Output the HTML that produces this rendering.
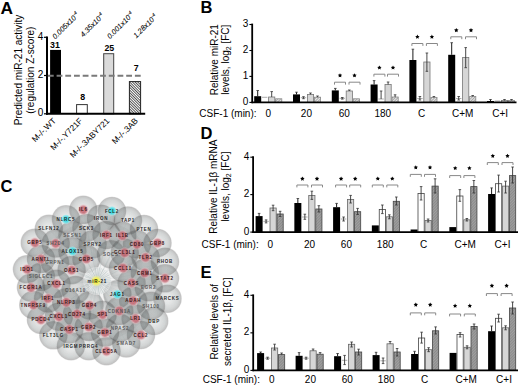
<!DOCTYPE html>
<html><head><meta charset="utf-8"><style>
html,body{margin:0;padding:0;background:#fff;}
svg{display:block;}
text{font-family:"Liberation Sans", sans-serif;}
</style></head><body>
<svg width="520" height="387" viewBox="0 0 520 387" font-family="Liberation Sans, sans-serif">
<defs><pattern id="hatA" patternUnits="userSpaceOnUse" width="1.9" height="1.9" patternTransform="rotate(45)">
<rect width="1.9" height="1.9" fill="#fff"/><rect width="1.9" height="0.7" fill="#111"/></pattern><pattern id="hatB" patternUnits="userSpaceOnUse" width="2" height="2" patternTransform="rotate(-45)">
<rect width="2" height="2" fill="#e8e8e8"/><rect width="2" height="0.8" fill="#999"/></pattern><pattern id="hatD" patternUnits="userSpaceOnUse" width="2" height="2" patternTransform="rotate(-45)">
<rect width="2" height="2" fill="#a0a0a0"/><rect width="2" height="0.8" fill="#868686"/></pattern><filter id="blr" x="-5%" y="-5%" width="110%" height="110%"><feGaussianBlur stdDeviation="0.5"/></filter><radialGradient id="sph" cx="0.5" cy="0.5" r="0.5">
<stop offset="0" stop-color="#586262" stop-opacity="0.12"/>
<stop offset="0.35" stop-color="#586262" stop-opacity="0.17"/>
<stop offset="0.75" stop-color="#586262" stop-opacity="0.27"/>
<stop offset="0.94" stop-color="#505050" stop-opacity="0.35"/>
<stop offset="1" stop-color="#606060" stop-opacity="0.26"/></radialGradient><radialGradient id="rn"><stop offset="0" stop-color="#d07a84"/><stop offset="0.45" stop-color="#c25e6a"/><stop offset="0.65" stop-color="#cc7882" stop-opacity="0.85"/><stop offset="0.82" stop-color="#eab0b6" stop-opacity="0.45"/><stop offset="1" stop-color="#f4c8cc" stop-opacity="0"/></radialGradient><radialGradient id="cn"><stop offset="0" stop-color="#30d8e0"/><stop offset="0.5" stop-color="#50dce4"/><stop offset="0.8" stop-color="#90e8ee" stop-opacity="0.7"/><stop offset="1" stop-color="#c0f4f4" stop-opacity="0"/></radialGradient><radialGradient id="yn"><stop offset="0" stop-color="#f4f020"/><stop offset="0.5" stop-color="#f4f060"/><stop offset="1" stop-color="#ffffa0" stop-opacity="0"/></radialGradient></defs>
<rect width="520" height="387" fill="#fff"/>
<text x="0.4" y="13.5" font-size="17.3" text-anchor="start" font-weight="bold" fill="#000">A</text>
<text x="0" y="0" font-size="10" text-anchor="middle" fill="#000" transform="translate(21.8,70) rotate(-90)">Predicted miR-21 activity</text>
<text x="0" y="0" font-size="10" text-anchor="middle" fill="#000" transform="translate(33.5,70.2) rotate(-90)">(regulation Z-score)</text>
<rect x="50.1" y="49.9" width="10.9" height="63.9" fill="#000" stroke="none" stroke-width="1"/>
<rect x="76.6" y="104.6" width="10.7" height="9.200000000000003" fill="#fff" stroke="#333" stroke-width="1"/>
<rect x="103.7" y="53.7" width="10" height="60.099999999999994" fill="#dadada" stroke="#444" stroke-width="1"/>
<rect x="129.4" y="81.6" width="11.2" height="32.2" fill="url(#hatA)" stroke="#222" stroke-width="1"/>
<line x1="47" y1="36.5" x2="47" y2="114.8" stroke="#000" stroke-width="2"/>
<line x1="44" y1="37.3" x2="47" y2="37.3" stroke="#000" stroke-width="1.2"/>
<text x="43.3" y="39.5" font-size="10" text-anchor="end" fill="#000">4</text>
<line x1="44" y1="75.5" x2="47" y2="75.5" stroke="#000" stroke-width="1.2"/>
<text x="43.3" y="77.7" font-size="10" text-anchor="end" fill="#000">2</text>
<line x1="44" y1="113.8" x2="47" y2="113.8" stroke="#000" stroke-width="1.2"/>
<text x="43.3" y="116.0" font-size="10" text-anchor="end" fill="#000">0</text>
<line x1="46" y1="113.8" x2="145.2" y2="113.8" stroke="#000" stroke-width="2"/>
<line x1="47.9" y1="75.7" x2="142" y2="75.7" stroke="#7a7a7a" stroke-width="2" stroke-dasharray="5.8 2.9"/>
<text x="54.9" y="47.6" font-size="8.8" text-anchor="middle" font-weight="bold" fill="#000">31</text>
<text x="82.7" y="99.8" font-size="8.8" text-anchor="middle" font-weight="bold" fill="#000">8</text>
<text x="109.35" y="50.6" font-size="8.8" text-anchor="middle" font-weight="bold" fill="#000">25</text>
<text x="136.2" y="70.6" font-size="8.8" text-anchor="middle" font-weight="bold" fill="#000">7</text>
<text transform="translate(55.3,39.5) rotate(-45)" font-size="7.3" font-style="italic" fill="#000" stroke="#000" stroke-width="0.08">0.005x10<tspan font-size="4.8" dy="-3">-4</tspan></text>
<text transform="translate(83.2,37.5) rotate(-45)" font-size="7.3" font-style="italic" fill="#000" stroke="#000" stroke-width="0.08">4.35x10<tspan font-size="4.8" dy="-3">-4</tspan></text>
<text transform="translate(110,39.2) rotate(-45)" font-size="7.3" font-style="italic" fill="#000" stroke="#000" stroke-width="0.08">0.001x10<tspan font-size="4.8" dy="-3">-4</tspan></text>
<text transform="translate(136.3,38.5) rotate(-45)" font-size="7.3" font-style="italic" fill="#000" stroke="#000" stroke-width="0.08">1.28x10<tspan font-size="4.8" dy="-3">-4</tspan></text>
<text x="0" y="0" font-size="8.3" text-anchor="end" fill="#000" transform="translate(56.5,121.4) rotate(-45)">M-/-.WT</text>
<text x="0" y="0" font-size="8.3" text-anchor="end" fill="#000" transform="translate(83,121.4) rotate(-45)">M-/-.Y721F</text>
<text x="0" y="0" font-size="8.3" text-anchor="end" fill="#000" transform="translate(110,121.4) rotate(-45)">M-/-.3ABY721</text>
<text x="0" y="0" font-size="8.3" text-anchor="end" fill="#000" transform="translate(138.5,121.4) rotate(-45)">M-/-.3AB</text>
<text x="200.4" y="13.2" font-size="16.5" text-anchor="start" font-weight="bold" fill="#000">B</text>
<text transform="translate(217.6,59.7) rotate(-90)" font-size="10" text-anchor="middle">Relative miR-21</text>
<text transform="translate(229,59.7) rotate(-90)" font-size="10" text-anchor="middle">levels, log<tspan font-size="7" dy="2">2</tspan><tspan dy="-2"> [FC]</tspan></text>
<rect x="254.2" y="96.2" width="7" height="6.200000000000003" fill="#000" stroke="none" stroke-width="1"/>
<line x1="257.7" y1="90.5" x2="257.7" y2="96.2" stroke="#000" stroke-width="0.9"/>
<line x1="256.4" y1="90.5" x2="259.0" y2="90.5" stroke="#333" stroke-width="0.8"/>
<line x1="262.0" y1="97.3" x2="267.4" y2="97.3" stroke="#999" stroke-width="0.8"/>
<rect x="268.59999999999997" y="97" width="6.2" height="5.400000000000006" fill="#d6d6d6" stroke="#777" stroke-width="0.8"/>
<line x1="271.7" y1="91.6" x2="271.7" y2="97" stroke="#333" stroke-width="0.9"/>
<line x1="270.4" y1="91.6" x2="273.0" y2="91.6" stroke="#333" stroke-width="0.8"/>
<rect x="275.59999999999997" y="98.8" width="6.2" height="3.6000000000000085" fill="url(#hatB)" stroke="#888" stroke-width="0.8"/>
<rect x="293.0" y="94.4" width="7" height="8.0" fill="#000" stroke="none" stroke-width="1"/>
<line x1="296.5" y1="92.2" x2="296.5" y2="94.4" stroke="#000" stroke-width="0.9"/>
<line x1="295.2" y1="92.2" x2="297.8" y2="92.2" stroke="#333" stroke-width="0.8"/>
<line x1="300.8" y1="97.7" x2="306.2" y2="97.7" stroke="#999" stroke-width="0.8"/>
<line x1="303.5" y1="96.7" x2="303.5" y2="98.7" stroke="#333" stroke-width="0.9"/>
<line x1="302.2" y1="96.7" x2="304.8" y2="96.7" stroke="#333" stroke-width="0.8"/>
<line x1="302.2" y1="98.7" x2="304.8" y2="98.7" stroke="#333" stroke-width="0.8"/>
<rect x="307.4" y="94.4" width="6.2" height="8.0" fill="#d6d6d6" stroke="#777" stroke-width="0.8"/>
<line x1="310.5" y1="93" x2="310.5" y2="94.4" stroke="#333" stroke-width="0.9"/>
<line x1="309.2" y1="93" x2="311.8" y2="93" stroke="#333" stroke-width="0.8"/>
<rect x="314.4" y="97.2" width="6.2" height="5.200000000000003" fill="url(#hatB)" stroke="#888" stroke-width="0.8"/>
<line x1="317.5" y1="96" x2="317.5" y2="97.2" stroke="#333" stroke-width="0.9"/>
<line x1="316.2" y1="96" x2="318.8" y2="96" stroke="#333" stroke-width="0.8"/>
<rect x="331.79999999999995" y="90.4" width="7" height="12.0" fill="#000" stroke="none" stroke-width="1"/>
<line x1="335.29999999999995" y1="88.4" x2="335.29999999999995" y2="90.4" stroke="#000" stroke-width="0.9"/>
<line x1="333.99999999999994" y1="88.4" x2="336.59999999999997" y2="88.4" stroke="#333" stroke-width="0.8"/>
<line x1="339.59999999999997" y1="98.3" x2="344.99999999999994" y2="98.3" stroke="#999" stroke-width="0.8"/>
<line x1="342.29999999999995" y1="97.5" x2="342.29999999999995" y2="99.1" stroke="#333" stroke-width="0.9"/>
<line x1="340.99999999999994" y1="97.5" x2="343.59999999999997" y2="97.5" stroke="#333" stroke-width="0.8"/>
<line x1="340.99999999999994" y1="99.1" x2="343.59999999999997" y2="99.1" stroke="#333" stroke-width="0.8"/>
<rect x="346.19999999999993" y="91" width="6.2" height="11.400000000000006" fill="#d6d6d6" stroke="#777" stroke-width="0.8"/>
<line x1="349.29999999999995" y1="90" x2="349.29999999999995" y2="91" stroke="#333" stroke-width="0.9"/>
<line x1="347.99999999999994" y1="90" x2="350.59999999999997" y2="90" stroke="#333" stroke-width="0.8"/>
<rect x="353.19999999999993" y="98.8" width="6.2" height="3.6000000000000085" fill="url(#hatB)" stroke="#888" stroke-width="0.8"/>
<rect x="370.59999999999997" y="84.5" width="7" height="17.900000000000006" fill="#000" stroke="none" stroke-width="1"/>
<line x1="374.09999999999997" y1="80.6" x2="374.09999999999997" y2="84.5" stroke="#000" stroke-width="0.9"/>
<line x1="372.79999999999995" y1="80.6" x2="375.4" y2="80.6" stroke="#333" stroke-width="0.8"/>
<line x1="378.4" y1="99" x2="383.79999999999995" y2="99" stroke="#999" stroke-width="0.8"/>
<line x1="381.09999999999997" y1="91" x2="381.09999999999997" y2="99" stroke="#333" stroke-width="0.9"/>
<line x1="379.79999999999995" y1="91" x2="382.4" y2="91" stroke="#333" stroke-width="0.8"/>
<rect x="384.99999999999994" y="84.5" width="6.2" height="17.900000000000006" fill="#d6d6d6" stroke="#777" stroke-width="0.8"/>
<line x1="388.09999999999997" y1="82" x2="388.09999999999997" y2="84.5" stroke="#333" stroke-width="0.9"/>
<line x1="386.79999999999995" y1="82" x2="389.4" y2="82" stroke="#333" stroke-width="0.8"/>
<rect x="391.99999999999994" y="97" width="6.2" height="5.400000000000006" fill="url(#hatB)" stroke="#888" stroke-width="0.8"/>
<line x1="395.09999999999997" y1="94.8" x2="395.09999999999997" y2="97" stroke="#333" stroke-width="0.9"/>
<line x1="393.79999999999995" y1="94.8" x2="396.4" y2="94.8" stroke="#333" stroke-width="0.8"/>
<rect x="409.4" y="60" width="7" height="42.400000000000006" fill="#000" stroke="none" stroke-width="1"/>
<line x1="412.9" y1="49.2" x2="412.9" y2="60" stroke="#000" stroke-width="0.9"/>
<line x1="411.59999999999997" y1="49.2" x2="414.2" y2="49.2" stroke="#333" stroke-width="0.8"/>
<line x1="417.2" y1="98.5" x2="422.59999999999997" y2="98.5" stroke="#999" stroke-width="0.8"/>
<line x1="419.9" y1="96.5" x2="419.9" y2="100" stroke="#333" stroke-width="0.9"/>
<line x1="418.59999999999997" y1="96.5" x2="421.2" y2="96.5" stroke="#333" stroke-width="0.8"/>
<line x1="418.59999999999997" y1="100" x2="421.2" y2="100" stroke="#333" stroke-width="0.8"/>
<rect x="423.79999999999995" y="62" width="6.2" height="40.400000000000006" fill="#d6d6d6" stroke="#777" stroke-width="0.8"/>
<line x1="426.9" y1="53" x2="426.9" y2="71.3" stroke="#333" stroke-width="0.9"/>
<line x1="425.59999999999997" y1="53" x2="428.2" y2="53" stroke="#333" stroke-width="0.8"/>
<line x1="425.59999999999997" y1="71.3" x2="428.2" y2="71.3" stroke="#333" stroke-width="0.8"/>
<rect x="430.79999999999995" y="97.5" width="6.2" height="4.900000000000006" fill="url(#hatB)" stroke="#888" stroke-width="0.8"/>
<line x1="433.9" y1="96.5" x2="433.9" y2="97.5" stroke="#333" stroke-width="0.9"/>
<line x1="432.59999999999997" y1="96.5" x2="435.2" y2="96.5" stroke="#333" stroke-width="0.8"/>
<rect x="448.2" y="54.8" width="7" height="47.60000000000001" fill="#000" stroke="none" stroke-width="1"/>
<line x1="451.7" y1="42.7" x2="451.7" y2="54.8" stroke="#000" stroke-width="0.9"/>
<line x1="450.4" y1="42.7" x2="453.0" y2="42.7" stroke="#333" stroke-width="0.8"/>
<line x1="456.0" y1="98.5" x2="461.4" y2="98.5" stroke="#999" stroke-width="0.8"/>
<line x1="458.7" y1="96.5" x2="458.7" y2="100" stroke="#333" stroke-width="0.9"/>
<line x1="457.4" y1="96.5" x2="460.0" y2="96.5" stroke="#333" stroke-width="0.8"/>
<line x1="457.4" y1="100" x2="460.0" y2="100" stroke="#333" stroke-width="0.8"/>
<rect x="462.59999999999997" y="57.4" width="6.2" height="45.00000000000001" fill="#d6d6d6" stroke="#777" stroke-width="0.8"/>
<line x1="465.7" y1="47.6" x2="465.7" y2="67.7" stroke="#333" stroke-width="0.9"/>
<line x1="464.4" y1="47.6" x2="467.0" y2="47.6" stroke="#333" stroke-width="0.8"/>
<line x1="464.4" y1="67.7" x2="467.0" y2="67.7" stroke="#333" stroke-width="0.8"/>
<rect x="469.59999999999997" y="96.5" width="6.2" height="5.900000000000006" fill="url(#hatB)" stroke="#888" stroke-width="0.8"/>
<line x1="472.7" y1="95.5" x2="472.7" y2="96.5" stroke="#333" stroke-width="0.9"/>
<line x1="471.4" y1="95.5" x2="474.0" y2="95.5" stroke="#333" stroke-width="0.8"/>
<rect x="487.0" y="101" width="7" height="1.4000000000000057" fill="#000" stroke="none" stroke-width="1"/>
<line x1="490.5" y1="99.5" x2="490.5" y2="101" stroke="#000" stroke-width="0.9"/>
<line x1="489.2" y1="99.5" x2="491.8" y2="99.5" stroke="#333" stroke-width="0.8"/>
<line x1="494.8" y1="101" x2="500.2" y2="101" stroke="#999" stroke-width="0.8"/>
<rect x="501.4" y="100.5" width="6.2" height="1.9000000000000057" fill="#d6d6d6" stroke="#777" stroke-width="0.8"/>
<line x1="504.5" y1="99.5" x2="504.5" y2="100.5" stroke="#333" stroke-width="0.9"/>
<line x1="503.2" y1="99.5" x2="505.8" y2="99.5" stroke="#333" stroke-width="0.8"/>
<rect x="508.4" y="100.5" width="6.2" height="1.9000000000000057" fill="url(#hatB)" stroke="#888" stroke-width="0.8"/>
<line x1="511.5" y1="99.5" x2="511.5" y2="100.5" stroke="#333" stroke-width="0.9"/>
<line x1="510.2" y1="99.5" x2="512.8" y2="99.5" stroke="#333" stroke-width="0.8"/>
<polyline points="334.5,84.60000000000001 334.5,82.2 345.5,82.2 345.5,84.60000000000001" fill="none" stroke="#888" stroke-width="1"/>
<polyline points="349.0,84.60000000000001 349.0,82.2 360.0,82.2 360.0,84.60000000000001" fill="none" stroke="#888" stroke-width="1"/>
<polygon points="340.00,73.20 340.68,74.57 342.19,74.79 341.09,75.86 341.35,77.36 340.00,76.65 338.65,77.36 338.91,75.86 337.81,74.79 339.32,74.57" fill="#000"/>
<polygon points="354.50,73.20 355.18,74.57 356.69,74.79 355.59,75.86 355.85,77.36 354.50,76.65 353.15,77.36 353.41,75.86 352.31,74.79 353.82,74.57" fill="#000"/>
<polyline points="373.9,76.60000000000001 373.9,74.2 384.9,74.2 384.9,76.60000000000001" fill="none" stroke="#888" stroke-width="1"/>
<polyline points="387.5,76.60000000000001 387.5,74.2 398.5,74.2 398.5,76.60000000000001" fill="none" stroke="#888" stroke-width="1"/>
<polygon points="379.40,65.40 380.08,66.77 381.59,66.99 380.49,68.06 380.75,69.56 379.40,68.85 378.05,69.56 378.31,68.06 377.21,66.99 378.72,66.77" fill="#000"/>
<polygon points="393.00,65.40 393.68,66.77 395.19,66.99 394.09,68.06 394.35,69.56 393.00,68.85 391.65,69.56 391.91,68.06 390.81,66.99 392.32,66.77" fill="#000"/>
<polyline points="411.9,45.9 411.9,43.5 422.9,43.5 422.9,45.9" fill="none" stroke="#888" stroke-width="1"/>
<polyline points="426.4,45.9 426.4,43.5 437.4,43.5 437.4,45.9" fill="none" stroke="#888" stroke-width="1"/>
<polygon points="417.40,34.60 418.08,35.97 419.59,36.19 418.49,37.26 418.75,38.76 417.40,38.05 416.05,38.76 416.31,37.26 415.21,36.19 416.72,35.97" fill="#000"/>
<polygon points="431.90,34.60 432.58,35.97 434.09,36.19 432.99,37.26 433.25,38.76 431.90,38.05 430.55,38.76 430.81,37.26 429.71,36.19 431.22,35.97" fill="#000"/>
<polyline points="450.8,39.199999999999996 450.8,36.8 461.8,36.8 461.8,39.199999999999996" fill="none" stroke="#888" stroke-width="1"/>
<polyline points="465.5,39.199999999999996 465.5,36.8 476.5,36.8 476.5,39.199999999999996" fill="none" stroke="#888" stroke-width="1"/>
<polygon points="456.30,28.00 456.98,29.37 458.49,29.59 457.39,30.66 457.65,32.16 456.30,31.45 454.95,32.16 455.21,30.66 454.11,29.59 455.62,29.37" fill="#000"/>
<polygon points="471.00,28.00 471.68,29.37 473.19,29.59 472.09,30.66 472.35,32.16 471.00,31.45 469.65,32.16 469.91,30.66 468.81,29.59 470.32,29.37" fill="#000"/>
<line x1="252.2" y1="23.6" x2="252.2" y2="103.2" stroke="#000" stroke-width="1.8"/>
<line x1="249.39999999999998" y1="24.5" x2="252.2" y2="24.5" stroke="#000" stroke-width="1.1"/>
<text x="248.29999999999998" y="26.9" font-size="10" text-anchor="end" fill="#000">3</text>
<line x1="249.39999999999998" y1="50.5" x2="252.2" y2="50.5" stroke="#000" stroke-width="1.1"/>
<text x="248.29999999999998" y="52.9" font-size="10" text-anchor="end" fill="#000">2</text>
<line x1="249.39999999999998" y1="76.4" x2="252.2" y2="76.4" stroke="#000" stroke-width="1.1"/>
<text x="248.29999999999998" y="78.80000000000001" font-size="10" text-anchor="end" fill="#000">1</text>
<line x1="249.39999999999998" y1="102.4" x2="252.2" y2="102.4" stroke="#000" stroke-width="1.1"/>
<text x="248.29999999999998" y="104.80000000000001" font-size="10" text-anchor="end" fill="#000">0</text>
<line x1="251.5" y1="102.4" x2="516.5" y2="102.4" stroke="#000" stroke-width="1.7"/>
<text x="199.3" y="117.4" font-size="10" text-anchor="start" fill="#000">CSF-1 (min):</text>
<text x="268.2" y="117.4" font-size="10" text-anchor="middle" fill="#000">0</text>
<text x="306.4" y="117.4" font-size="10" text-anchor="middle" fill="#000">20</text>
<text x="344.2" y="117.4" font-size="10" text-anchor="middle" fill="#000">60</text>
<text x="382.8" y="117.4" font-size="10" text-anchor="middle" fill="#000">180</text>
<text x="421.5" y="117.4" font-size="10" text-anchor="middle" fill="#000">C</text>
<text x="462.7" y="117.4" font-size="10" text-anchor="middle" fill="#000">C+M</text>
<text x="500.2" y="117.4" font-size="10" text-anchor="middle" fill="#000">C+I</text>
<text x="200.4" y="138.5" font-size="16.5" text-anchor="start" font-weight="bold" fill="#000">D</text>
<text transform="translate(217.1,186.6) rotate(-90)" font-size="10" text-anchor="middle">Relative IL-1&#946; mRNA</text>
<text transform="translate(229,186.6) rotate(-90)" font-size="10" text-anchor="middle">levels, log<tspan font-size="7" dy="2">2</tspan><tspan dy="-2"> [FC]</tspan></text>
<rect x="255.60000000000002" y="216.1" width="7" height="16.0" fill="#000" stroke="none" stroke-width="1"/>
<line x1="259.1" y1="213.4" x2="259.1" y2="216.1" stroke="#000" stroke-width="0.9"/>
<line x1="257.8" y1="213.4" x2="260.40000000000003" y2="213.4" stroke="#333" stroke-width="0.8"/>
<line x1="263.40000000000003" y1="221.4" x2="268.8" y2="221.4" stroke="#999" stroke-width="0.8"/>
<line x1="266.1" y1="219.9" x2="266.1" y2="222.9" stroke="#333" stroke-width="0.9"/>
<line x1="264.8" y1="219.9" x2="267.40000000000003" y2="219.9" stroke="#333" stroke-width="0.8"/>
<line x1="264.8" y1="222.9" x2="267.40000000000003" y2="222.9" stroke="#333" stroke-width="0.8"/>
<rect x="270.0" y="208" width="6.2" height="24.099999999999994" fill="#d6d6d6" stroke="#666" stroke-width="0.8"/>
<line x1="273.1" y1="205.2" x2="273.1" y2="210.7" stroke="#333" stroke-width="0.9"/>
<line x1="271.8" y1="205.2" x2="274.40000000000003" y2="205.2" stroke="#333" stroke-width="0.8"/>
<line x1="271.8" y1="210.7" x2="274.40000000000003" y2="210.7" stroke="#333" stroke-width="0.8"/>
<rect x="277.0" y="214" width="6.2" height="18.099999999999994" fill="url(#hatD)" stroke="#444" stroke-width="0.8"/>
<line x1="280.1" y1="211.3" x2="280.1" y2="216.5" stroke="#333" stroke-width="0.9"/>
<line x1="278.8" y1="211.3" x2="281.40000000000003" y2="211.3" stroke="#333" stroke-width="0.8"/>
<line x1="278.8" y1="216.5" x2="281.40000000000003" y2="216.5" stroke="#333" stroke-width="0.8"/>
<rect x="294.35" y="203" width="7" height="29.099999999999994" fill="#000" stroke="none" stroke-width="1"/>
<line x1="297.85" y1="198.5" x2="297.85" y2="203" stroke="#000" stroke-width="0.9"/>
<line x1="296.55" y1="198.5" x2="299.15000000000003" y2="198.5" stroke="#333" stroke-width="0.8"/>
<line x1="302.15000000000003" y1="217" x2="307.55" y2="217" stroke="#999" stroke-width="0.8"/>
<line x1="304.85" y1="214.2" x2="304.85" y2="219.3" stroke="#333" stroke-width="0.9"/>
<line x1="303.55" y1="214.2" x2="306.15000000000003" y2="214.2" stroke="#333" stroke-width="0.8"/>
<line x1="303.55" y1="219.3" x2="306.15000000000003" y2="219.3" stroke="#333" stroke-width="0.8"/>
<rect x="308.75" y="195.4" width="6.2" height="36.69999999999999" fill="#d6d6d6" stroke="#666" stroke-width="0.8"/>
<line x1="311.85" y1="191.2" x2="311.85" y2="199.4" stroke="#333" stroke-width="0.9"/>
<line x1="310.55" y1="191.2" x2="313.15000000000003" y2="191.2" stroke="#333" stroke-width="0.8"/>
<line x1="310.55" y1="199.4" x2="313.15000000000003" y2="199.4" stroke="#333" stroke-width="0.8"/>
<rect x="315.75" y="209" width="6.2" height="23.099999999999994" fill="url(#hatD)" stroke="#444" stroke-width="0.8"/>
<line x1="318.85" y1="205.7" x2="318.85" y2="212" stroke="#333" stroke-width="0.9"/>
<line x1="317.55" y1="205.7" x2="320.15000000000003" y2="205.7" stroke="#333" stroke-width="0.8"/>
<line x1="317.55" y1="212" x2="320.15000000000003" y2="212" stroke="#333" stroke-width="0.8"/>
<rect x="333.1" y="207.2" width="7" height="24.900000000000006" fill="#000" stroke="none" stroke-width="1"/>
<line x1="336.6" y1="203.4" x2="336.6" y2="207.2" stroke="#000" stroke-width="0.9"/>
<line x1="335.3" y1="203.4" x2="337.90000000000003" y2="203.4" stroke="#333" stroke-width="0.8"/>
<line x1="340.90000000000003" y1="219" x2="346.3" y2="219" stroke="#999" stroke-width="0.8"/>
<line x1="343.6" y1="217" x2="343.6" y2="221" stroke="#333" stroke-width="0.9"/>
<line x1="342.3" y1="217" x2="344.90000000000003" y2="217" stroke="#333" stroke-width="0.8"/>
<line x1="342.3" y1="221" x2="344.90000000000003" y2="221" stroke="#333" stroke-width="0.8"/>
<rect x="347.5" y="199.4" width="6.2" height="32.69999999999999" fill="#d6d6d6" stroke="#666" stroke-width="0.8"/>
<line x1="350.6" y1="195.4" x2="350.6" y2="203" stroke="#333" stroke-width="0.9"/>
<line x1="349.3" y1="195.4" x2="351.90000000000003" y2="195.4" stroke="#333" stroke-width="0.8"/>
<line x1="349.3" y1="203" x2="351.90000000000003" y2="203" stroke="#333" stroke-width="0.8"/>
<rect x="354.5" y="211.7" width="6.2" height="20.400000000000006" fill="url(#hatD)" stroke="#444" stroke-width="0.8"/>
<line x1="357.6" y1="208.4" x2="357.6" y2="214.5" stroke="#333" stroke-width="0.9"/>
<line x1="356.3" y1="208.4" x2="358.90000000000003" y2="208.4" stroke="#333" stroke-width="0.8"/>
<line x1="356.3" y1="214.5" x2="358.90000000000003" y2="214.5" stroke="#333" stroke-width="0.8"/>
<rect x="371.85" y="225.4" width="7" height="6.699999999999989" fill="#000" stroke="none" stroke-width="1"/>
<rect x="379.25" y="209.4" width="6.2" height="22.69999999999999" fill="#fff" stroke="#444" stroke-width="0.8"/>
<line x1="382.35" y1="205" x2="382.35" y2="213.6" stroke="#333" stroke-width="0.9"/>
<line x1="381.05" y1="205" x2="383.65000000000003" y2="205" stroke="#333" stroke-width="0.8"/>
<line x1="381.05" y1="213.6" x2="383.65000000000003" y2="213.6" stroke="#333" stroke-width="0.8"/>
<rect x="386.25" y="216.8" width="6.2" height="15.299999999999983" fill="#d6d6d6" stroke="#666" stroke-width="0.8"/>
<line x1="389.35" y1="214.8" x2="389.35" y2="218.8" stroke="#333" stroke-width="0.9"/>
<line x1="388.05" y1="214.8" x2="390.65000000000003" y2="214.8" stroke="#333" stroke-width="0.8"/>
<line x1="388.05" y1="218.8" x2="390.65000000000003" y2="218.8" stroke="#333" stroke-width="0.8"/>
<rect x="393.25" y="201.3" width="6.2" height="30.799999999999983" fill="url(#hatD)" stroke="#444" stroke-width="0.8"/>
<line x1="396.35" y1="197" x2="396.35" y2="205" stroke="#333" stroke-width="0.9"/>
<line x1="395.05" y1="197" x2="397.65000000000003" y2="197" stroke="#333" stroke-width="0.8"/>
<line x1="395.05" y1="205" x2="397.65000000000003" y2="205" stroke="#333" stroke-width="0.8"/>
<rect x="410.6" y="229.5" width="7" height="2.5999999999999943" fill="#000" stroke="none" stroke-width="1"/>
<rect x="418.0" y="193.5" width="6.2" height="38.599999999999994" fill="#fff" stroke="#444" stroke-width="0.8"/>
<line x1="421.1" y1="186.6" x2="421.1" y2="200" stroke="#333" stroke-width="0.9"/>
<line x1="419.8" y1="186.6" x2="422.40000000000003" y2="186.6" stroke="#333" stroke-width="0.8"/>
<line x1="419.8" y1="200" x2="422.40000000000003" y2="200" stroke="#333" stroke-width="0.8"/>
<rect x="425.0" y="220.5" width="6.2" height="11.599999999999994" fill="#d6d6d6" stroke="#666" stroke-width="0.8"/>
<line x1="428.1" y1="219" x2="428.1" y2="222" stroke="#333" stroke-width="0.9"/>
<line x1="426.8" y1="219" x2="429.40000000000003" y2="219" stroke="#333" stroke-width="0.8"/>
<line x1="426.8" y1="222" x2="429.40000000000003" y2="222" stroke="#333" stroke-width="0.8"/>
<rect x="432.0" y="186.1" width="6.2" height="46.0" fill="url(#hatD)" stroke="#444" stroke-width="0.8"/>
<line x1="435.1" y1="178.8" x2="435.1" y2="193" stroke="#333" stroke-width="0.9"/>
<line x1="433.8" y1="178.8" x2="436.40000000000003" y2="178.8" stroke="#333" stroke-width="0.8"/>
<line x1="433.8" y1="193" x2="436.40000000000003" y2="193" stroke="#333" stroke-width="0.8"/>
<rect x="449.35" y="227.1" width="7" height="5.0" fill="#000" stroke="none" stroke-width="1"/>
<rect x="456.75" y="196" width="6.2" height="36.099999999999994" fill="#fff" stroke="#444" stroke-width="0.8"/>
<line x1="459.85" y1="189.6" x2="459.85" y2="201.3" stroke="#333" stroke-width="0.9"/>
<line x1="458.55" y1="189.6" x2="461.15000000000003" y2="189.6" stroke="#333" stroke-width="0.8"/>
<line x1="458.55" y1="201.3" x2="461.15000000000003" y2="201.3" stroke="#333" stroke-width="0.8"/>
<rect x="463.75" y="219.8" width="6.2" height="12.299999999999983" fill="#d6d6d6" stroke="#666" stroke-width="0.8"/>
<line x1="466.85" y1="218.5" x2="466.85" y2="221" stroke="#333" stroke-width="0.9"/>
<line x1="465.55" y1="218.5" x2="468.15000000000003" y2="218.5" stroke="#333" stroke-width="0.8"/>
<line x1="465.55" y1="221" x2="468.15000000000003" y2="221" stroke="#333" stroke-width="0.8"/>
<rect x="470.75" y="186.6" width="6.2" height="45.5" fill="url(#hatD)" stroke="#444" stroke-width="0.8"/>
<line x1="473.85" y1="180.5" x2="473.85" y2="193" stroke="#333" stroke-width="0.9"/>
<line x1="472.55" y1="180.5" x2="475.15000000000003" y2="180.5" stroke="#333" stroke-width="0.8"/>
<line x1="472.55" y1="193" x2="475.15000000000003" y2="193" stroke="#333" stroke-width="0.8"/>
<rect x="488.1" y="194" width="7" height="38.099999999999994" fill="#000" stroke="none" stroke-width="1"/>
<line x1="491.6" y1="187.9" x2="491.6" y2="194" stroke="#000" stroke-width="0.9"/>
<line x1="490.3" y1="187.9" x2="492.90000000000003" y2="187.9" stroke="#333" stroke-width="0.8"/>
<rect x="495.5" y="183.7" width="6.2" height="48.400000000000006" fill="#fff" stroke="#444" stroke-width="0.8"/>
<line x1="498.6" y1="175.1" x2="498.6" y2="192" stroke="#333" stroke-width="0.9"/>
<line x1="497.3" y1="175.1" x2="499.90000000000003" y2="175.1" stroke="#333" stroke-width="0.8"/>
<line x1="497.3" y1="192" x2="499.90000000000003" y2="192" stroke="#333" stroke-width="0.8"/>
<rect x="502.5" y="186.1" width="6.2" height="46.0" fill="#d6d6d6" stroke="#666" stroke-width="0.8"/>
<line x1="505.6" y1="181.2" x2="505.6" y2="193" stroke="#333" stroke-width="0.9"/>
<line x1="504.3" y1="181.2" x2="506.90000000000003" y2="181.2" stroke="#333" stroke-width="0.8"/>
<line x1="504.3" y1="193" x2="506.90000000000003" y2="193" stroke="#333" stroke-width="0.8"/>
<rect x="509.5" y="175.6" width="6.2" height="56.5" fill="url(#hatD)" stroke="#444" stroke-width="0.8"/>
<line x1="512.6" y1="167" x2="512.6" y2="183" stroke="#333" stroke-width="0.9"/>
<line x1="511.3" y1="167" x2="513.9" y2="167" stroke="#333" stroke-width="0.8"/>
<line x1="511.3" y1="183" x2="513.9" y2="183" stroke="#333" stroke-width="0.8"/>
<polyline points="296.9,187.4 296.9,185 307.9,185 307.9,187.4" fill="none" stroke="#888" stroke-width="1"/>
<polyline points="311.5,187.4 311.5,185 322.5,185 322.5,187.4" fill="none" stroke="#888" stroke-width="1"/>
<polygon points="302.40,176.50 303.08,177.87 304.59,178.09 303.49,179.16 303.75,180.66 302.40,179.95 301.05,180.66 301.31,179.16 300.21,178.09 301.72,177.87" fill="#000"/>
<polygon points="317.00,176.50 317.68,177.87 319.19,178.09 318.09,179.16 318.35,180.66 317.00,179.95 315.65,180.66 315.91,179.16 314.81,178.09 316.32,177.87" fill="#000"/>
<polyline points="335.6,187.4 335.6,185 346.6,185 346.6,187.4" fill="none" stroke="#888" stroke-width="1"/>
<polyline points="349.7,187.4 349.7,185 360.7,185 360.7,187.4" fill="none" stroke="#888" stroke-width="1"/>
<polygon points="341.10,176.50 341.78,177.87 343.29,178.09 342.19,179.16 342.45,180.66 341.10,179.95 339.75,180.66 340.01,179.16 338.91,178.09 340.42,177.87" fill="#000"/>
<polygon points="355.20,176.50 355.88,177.87 357.39,178.09 356.29,179.16 356.55,180.66 355.20,179.95 353.85,180.66 354.11,179.16 353.01,178.09 354.52,177.87" fill="#000"/>
<polyline points="372.3,187.4 372.3,185 383.3,185 383.3,187.4" fill="none" stroke="#888" stroke-width="1"/>
<polyline points="386.8,187.4 386.8,185 397.8,185 397.8,187.4" fill="none" stroke="#888" stroke-width="1"/>
<polygon points="377.80,176.40 378.48,177.77 379.99,177.99 378.89,179.06 379.15,180.56 377.80,179.85 376.45,180.56 376.71,179.06 375.61,177.99 377.12,177.77" fill="#000"/>
<polygon points="392.30,176.40 392.98,177.77 394.49,177.99 393.39,179.06 393.65,180.56 392.30,179.85 390.95,180.56 391.21,179.06 390.11,177.99 391.62,177.77" fill="#000"/>
<polyline points="410.3,176.8 410.3,174.4 421.3,174.4 421.3,176.8" fill="none" stroke="#888" stroke-width="1"/>
<polyline points="424.5,176.8 424.5,174.4 435.5,174.4 435.5,176.8" fill="none" stroke="#888" stroke-width="1"/>
<polygon points="415.80,165.20 416.48,166.57 417.99,166.79 416.89,167.86 417.15,169.36 415.80,168.65 414.45,169.36 414.71,167.86 413.61,166.79 415.12,166.57" fill="#000"/>
<polygon points="430.00,165.20 430.68,166.57 432.19,166.79 431.09,167.86 431.35,169.36 430.00,168.65 428.65,169.36 428.91,167.86 427.81,166.79 429.32,166.57" fill="#000"/>
<polyline points="449.7,178.0 449.7,175.6 460.7,175.6 460.7,178.0" fill="none" stroke="#888" stroke-width="1"/>
<polyline points="463.9,178.0 463.9,175.6 474.9,175.6 474.9,178.0" fill="none" stroke="#888" stroke-width="1"/>
<polygon points="455.20,165.90 455.88,167.27 457.39,167.49 456.29,168.56 456.55,170.06 455.20,169.35 453.85,170.06 454.11,168.56 453.01,167.49 454.52,167.27" fill="#000"/>
<polygon points="469.40,165.90 470.08,167.27 471.59,167.49 470.49,168.56 470.75,170.06 469.40,169.35 468.05,170.06 468.31,168.56 467.21,167.49 468.72,167.27" fill="#000"/>
<polyline points="487.3,165.0 487.3,162.6 498.3,162.6 498.3,165.0" fill="none" stroke="#888" stroke-width="1"/>
<polyline points="502.0,165.0 502.0,162.6 513.0,162.6 513.0,165.0" fill="none" stroke="#888" stroke-width="1"/>
<polygon points="492.80,153.70 493.48,155.07 494.99,155.29 493.89,156.36 494.15,157.86 492.80,157.15 491.45,157.86 491.71,156.36 490.61,155.29 492.12,155.07" fill="#000"/>
<polygon points="507.50,153.70 508.18,155.07 509.69,155.29 508.59,156.36 508.85,157.86 507.50,157.15 506.15,157.86 506.41,156.36 505.31,155.29 506.82,155.07" fill="#000"/>
<line x1="253.1" y1="156.29999999999998" x2="253.1" y2="232.9" stroke="#000" stroke-width="1.8"/>
<line x1="250.29999999999998" y1="157.2" x2="253.1" y2="157.2" stroke="#000" stroke-width="1.1"/>
<text x="249.2" y="159.6" font-size="10" text-anchor="end" fill="#000">4</text>
<line x1="250.29999999999998" y1="194.6" x2="253.1" y2="194.6" stroke="#000" stroke-width="1.1"/>
<text x="249.2" y="197.0" font-size="10" text-anchor="end" fill="#000">2</text>
<line x1="250.29999999999998" y1="232.1" x2="253.1" y2="232.1" stroke="#000" stroke-width="1.1"/>
<text x="249.2" y="234.5" font-size="10" text-anchor="end" fill="#000">0</text>
<line x1="252.4" y1="232.1" x2="518" y2="232.1" stroke="#000" stroke-width="1.7"/>
<text x="201.5" y="247.5" font-size="10" text-anchor="start" fill="#000">CSF-1 (min):</text>
<text x="270.4" y="247.5" font-size="10" text-anchor="middle" fill="#000">0</text>
<text x="309.5" y="247.5" font-size="10" text-anchor="middle" fill="#000">20</text>
<text x="346.4" y="247.5" font-size="10" text-anchor="middle" fill="#000">60</text>
<text x="385.2" y="247.5" font-size="10" text-anchor="middle" fill="#000">180</text>
<text x="423.7" y="247.5" font-size="10" text-anchor="middle" fill="#000">C</text>
<text x="465.2" y="247.5" font-size="10" text-anchor="middle" fill="#000">C+M</text>
<text x="502.5" y="247.5" font-size="10" text-anchor="middle" fill="#000">C+I</text>
<text x="200.6" y="277.5" font-size="16.5" text-anchor="start" font-weight="bold" fill="#000">E</text>
<text transform="translate(218.2,321.8) rotate(-90)" font-size="10" text-anchor="middle">Relative levels of</text>
<text transform="translate(230.6,321.8) rotate(-90)" font-size="10" text-anchor="middle">secreted IL-1&#946;, [FC]</text>
<rect x="257.1" y="353.1" width="7" height="17.299999999999955" fill="#000" stroke="none" stroke-width="1"/>
<line x1="260.6" y1="352" x2="260.6" y2="353.1" stroke="#000" stroke-width="0.9"/>
<line x1="259.3" y1="352" x2="261.90000000000003" y2="352" stroke="#333" stroke-width="0.8"/>
<line x1="264.90000000000003" y1="358.2" x2="270.3" y2="358.2" stroke="#999" stroke-width="0.8"/>
<line x1="267.6" y1="357.2" x2="267.6" y2="359.2" stroke="#333" stroke-width="0.9"/>
<line x1="266.3" y1="357.2" x2="268.90000000000003" y2="357.2" stroke="#333" stroke-width="0.8"/>
<line x1="266.3" y1="359.2" x2="268.90000000000003" y2="359.2" stroke="#333" stroke-width="0.8"/>
<rect x="271.5" y="348" width="6.2" height="22.399999999999977" fill="#d6d6d6" stroke="#666" stroke-width="0.8"/>
<line x1="274.6" y1="344.2" x2="274.6" y2="350" stroke="#333" stroke-width="0.9"/>
<line x1="273.3" y1="344.2" x2="275.90000000000003" y2="344.2" stroke="#333" stroke-width="0.8"/>
<line x1="273.3" y1="350" x2="275.90000000000003" y2="350" stroke="#333" stroke-width="0.8"/>
<rect x="278.5" y="354.6" width="6.2" height="15.799999999999955" fill="url(#hatD)" stroke="#444" stroke-width="0.8"/>
<line x1="281.6" y1="353" x2="281.6" y2="354.6" stroke="#333" stroke-width="0.9"/>
<line x1="280.3" y1="353" x2="282.90000000000003" y2="353" stroke="#333" stroke-width="0.8"/>
<rect x="295.6" y="355.8" width="7" height="14.599999999999966" fill="#000" stroke="none" stroke-width="1"/>
<line x1="299.1" y1="352.6" x2="299.1" y2="355.8" stroke="#000" stroke-width="0.9"/>
<line x1="297.8" y1="352.6" x2="300.40000000000003" y2="352.6" stroke="#333" stroke-width="0.8"/>
<line x1="303.40000000000003" y1="358.2" x2="308.8" y2="358.2" stroke="#999" stroke-width="0.8"/>
<line x1="306.1" y1="357.2" x2="306.1" y2="359.2" stroke="#333" stroke-width="0.9"/>
<line x1="304.8" y1="357.2" x2="307.40000000000003" y2="357.2" stroke="#333" stroke-width="0.8"/>
<line x1="304.8" y1="359.2" x2="307.40000000000003" y2="359.2" stroke="#333" stroke-width="0.8"/>
<rect x="310.0" y="350.8" width="6.2" height="19.599999999999966" fill="#d6d6d6" stroke="#666" stroke-width="0.8"/>
<line x1="313.1" y1="349" x2="313.1" y2="350.8" stroke="#333" stroke-width="0.9"/>
<line x1="311.8" y1="349" x2="314.40000000000003" y2="349" stroke="#333" stroke-width="0.8"/>
<rect x="317.0" y="354.2" width="6.2" height="16.19999999999999" fill="url(#hatD)" stroke="#444" stroke-width="0.8"/>
<line x1="320.1" y1="352.6" x2="320.1" y2="354.2" stroke="#333" stroke-width="0.9"/>
<line x1="318.8" y1="352.6" x2="321.40000000000003" y2="352.6" stroke="#333" stroke-width="0.8"/>
<rect x="334.1" y="356.2" width="7" height="14.199999999999989" fill="#000" stroke="none" stroke-width="1"/>
<line x1="337.6" y1="353.5" x2="337.6" y2="356.2" stroke="#000" stroke-width="0.9"/>
<line x1="336.3" y1="353.5" x2="338.90000000000003" y2="353.5" stroke="#333" stroke-width="0.8"/>
<line x1="341.90000000000003" y1="360.3" x2="347.3" y2="360.3" stroke="#999" stroke-width="0.8"/>
<line x1="344.6" y1="355.4" x2="344.6" y2="364.6" stroke="#333" stroke-width="0.9"/>
<line x1="343.3" y1="355.4" x2="345.90000000000003" y2="355.4" stroke="#333" stroke-width="0.8"/>
<line x1="343.3" y1="364.6" x2="345.90000000000003" y2="364.6" stroke="#333" stroke-width="0.8"/>
<rect x="348.5" y="344.3" width="6.2" height="26.099999999999966" fill="#d6d6d6" stroke="#666" stroke-width="0.8"/>
<line x1="351.6" y1="342" x2="351.6" y2="347" stroke="#333" stroke-width="0.9"/>
<line x1="350.3" y1="342" x2="352.90000000000003" y2="342" stroke="#333" stroke-width="0.8"/>
<line x1="350.3" y1="347" x2="352.90000000000003" y2="347" stroke="#333" stroke-width="0.8"/>
<rect x="355.5" y="352" width="6.2" height="18.399999999999977" fill="url(#hatD)" stroke="#444" stroke-width="0.8"/>
<line x1="358.6" y1="349.2" x2="358.6" y2="355" stroke="#333" stroke-width="0.9"/>
<line x1="357.3" y1="349.2" x2="359.90000000000003" y2="349.2" stroke="#333" stroke-width="0.8"/>
<line x1="357.3" y1="355" x2="359.90000000000003" y2="355" stroke="#333" stroke-width="0.8"/>
<rect x="372.6" y="355.1" width="7" height="15.299999999999955" fill="#000" stroke="none" stroke-width="1"/>
<line x1="376.1" y1="352.3" x2="376.1" y2="355.1" stroke="#000" stroke-width="0.9"/>
<line x1="374.8" y1="352.3" x2="377.40000000000003" y2="352.3" stroke="#333" stroke-width="0.8"/>
<line x1="380.40000000000003" y1="360.8" x2="385.8" y2="360.8" stroke="#999" stroke-width="0.8"/>
<line x1="383.1" y1="358" x2="383.1" y2="363.6" stroke="#333" stroke-width="0.9"/>
<line x1="381.8" y1="358" x2="384.40000000000003" y2="358" stroke="#333" stroke-width="0.8"/>
<line x1="381.8" y1="363.6" x2="384.40000000000003" y2="363.6" stroke="#333" stroke-width="0.8"/>
<rect x="387.0" y="343.8" width="6.2" height="26.599999999999966" fill="#d6d6d6" stroke="#666" stroke-width="0.8"/>
<line x1="390.1" y1="341.5" x2="390.1" y2="343.8" stroke="#333" stroke-width="0.9"/>
<line x1="388.8" y1="341.5" x2="391.40000000000003" y2="341.5" stroke="#333" stroke-width="0.8"/>
<rect x="394.0" y="352" width="6.2" height="18.399999999999977" fill="url(#hatD)" stroke="#444" stroke-width="0.8"/>
<line x1="397.1" y1="348.5" x2="397.1" y2="356" stroke="#333" stroke-width="0.9"/>
<line x1="395.8" y1="348.5" x2="398.40000000000003" y2="348.5" stroke="#333" stroke-width="0.8"/>
<line x1="395.8" y1="356" x2="398.40000000000003" y2="356" stroke="#333" stroke-width="0.8"/>
<rect x="411.1" y="354" width="7" height="16.399999999999977" fill="#000" stroke="none" stroke-width="1"/>
<line x1="414.6" y1="351.3" x2="414.6" y2="354" stroke="#000" stroke-width="0.9"/>
<line x1="413.3" y1="351.3" x2="415.90000000000003" y2="351.3" stroke="#333" stroke-width="0.8"/>
<rect x="418.5" y="338" width="6.2" height="32.39999999999998" fill="#fff" stroke="#444" stroke-width="0.8"/>
<line x1="421.6" y1="332.2" x2="421.6" y2="343.1" stroke="#333" stroke-width="0.9"/>
<line x1="420.3" y1="332.2" x2="422.90000000000003" y2="332.2" stroke="#333" stroke-width="0.8"/>
<line x1="420.3" y1="343.1" x2="422.90000000000003" y2="343.1" stroke="#333" stroke-width="0.8"/>
<rect x="425.5" y="349.7" width="6.2" height="20.69999999999999" fill="#d6d6d6" stroke="#666" stroke-width="0.8"/>
<line x1="428.6" y1="347.7" x2="428.6" y2="351.7" stroke="#333" stroke-width="0.9"/>
<line x1="427.3" y1="347.7" x2="429.90000000000003" y2="347.7" stroke="#333" stroke-width="0.8"/>
<line x1="427.3" y1="351.7" x2="429.90000000000003" y2="351.7" stroke="#333" stroke-width="0.8"/>
<rect x="432.5" y="330.8" width="6.2" height="39.599999999999966" fill="url(#hatD)" stroke="#444" stroke-width="0.8"/>
<line x1="435.6" y1="326.9" x2="435.6" y2="334" stroke="#333" stroke-width="0.9"/>
<line x1="434.3" y1="326.9" x2="436.90000000000003" y2="326.9" stroke="#333" stroke-width="0.8"/>
<line x1="434.3" y1="334" x2="436.90000000000003" y2="334" stroke="#333" stroke-width="0.8"/>
<rect x="449.6" y="352.9" width="7" height="17.5" fill="#000" stroke="none" stroke-width="1"/>
<rect x="457.0" y="334.5" width="6.2" height="35.89999999999998" fill="#fff" stroke="#444" stroke-width="0.8"/>
<line x1="460.1" y1="332.7" x2="460.1" y2="337" stroke="#333" stroke-width="0.9"/>
<line x1="458.8" y1="332.7" x2="461.40000000000003" y2="332.7" stroke="#333" stroke-width="0.8"/>
<line x1="458.8" y1="337" x2="461.40000000000003" y2="337" stroke="#333" stroke-width="0.8"/>
<rect x="464.0" y="347.3" width="6.2" height="23.099999999999966" fill="#d6d6d6" stroke="#666" stroke-width="0.8"/>
<line x1="467.1" y1="345.8" x2="467.1" y2="348.8" stroke="#333" stroke-width="0.9"/>
<line x1="465.8" y1="345.8" x2="468.40000000000003" y2="345.8" stroke="#333" stroke-width="0.8"/>
<line x1="465.8" y1="348.8" x2="468.40000000000003" y2="348.8" stroke="#333" stroke-width="0.8"/>
<rect x="471.0" y="326.4" width="6.2" height="44.0" fill="url(#hatD)" stroke="#444" stroke-width="0.8"/>
<line x1="474.1" y1="324" x2="474.1" y2="329" stroke="#333" stroke-width="0.9"/>
<line x1="472.8" y1="324" x2="475.40000000000003" y2="324" stroke="#333" stroke-width="0.8"/>
<line x1="472.8" y1="329" x2="475.40000000000003" y2="329" stroke="#333" stroke-width="0.8"/>
<rect x="488.1" y="331.2" width="7" height="39.19999999999999" fill="#000" stroke="none" stroke-width="1"/>
<line x1="491.6" y1="326" x2="491.6" y2="331.2" stroke="#000" stroke-width="0.9"/>
<line x1="490.3" y1="326" x2="492.90000000000003" y2="326" stroke="#333" stroke-width="0.8"/>
<rect x="495.5" y="318.3" width="6.2" height="52.099999999999966" fill="#fff" stroke="#444" stroke-width="0.8"/>
<line x1="498.6" y1="314.2" x2="498.6" y2="322" stroke="#333" stroke-width="0.9"/>
<line x1="497.3" y1="314.2" x2="499.90000000000003" y2="314.2" stroke="#333" stroke-width="0.8"/>
<line x1="497.3" y1="322" x2="499.90000000000003" y2="322" stroke="#333" stroke-width="0.8"/>
<rect x="502.5" y="327.8" width="6.2" height="42.599999999999966" fill="#d6d6d6" stroke="#666" stroke-width="0.8"/>
<line x1="505.6" y1="325.8" x2="505.6" y2="329.8" stroke="#333" stroke-width="0.9"/>
<line x1="504.3" y1="325.8" x2="506.90000000000003" y2="325.8" stroke="#333" stroke-width="0.8"/>
<line x1="504.3" y1="329.8" x2="506.90000000000003" y2="329.8" stroke="#333" stroke-width="0.8"/>
<rect x="509.5" y="308" width="6.2" height="62.39999999999998" fill="url(#hatD)" stroke="#444" stroke-width="0.8"/>
<line x1="512.6" y1="302" x2="512.6" y2="314" stroke="#333" stroke-width="0.9"/>
<line x1="511.3" y1="302" x2="513.9" y2="302" stroke="#333" stroke-width="0.8"/>
<line x1="511.3" y1="314" x2="513.9" y2="314" stroke="#333" stroke-width="0.8"/>
<polyline points="410.3,315.29999999999995 410.3,312.9 421.3,312.9 421.3,315.29999999999995" fill="none" stroke="#888" stroke-width="1"/>
<polyline points="424.7,315.29999999999995 424.7,312.9 435.7,312.9 435.7,315.29999999999995" fill="none" stroke="#888" stroke-width="1"/>
<polygon points="415.80,302.50 416.48,303.87 417.99,304.09 416.89,305.16 417.15,306.66 415.80,305.95 414.45,306.66 414.71,305.16 413.61,304.09 415.12,303.87" fill="#000"/>
<polygon points="430.20,302.50 430.88,303.87 432.39,304.09 431.29,305.16 431.55,306.66 430.20,305.95 428.85,306.66 429.11,305.16 428.01,304.09 429.52,303.87" fill="#000"/>
<polyline points="449.6,316.4 449.6,314 460.6,314 460.6,316.4" fill="none" stroke="#888" stroke-width="1"/>
<polyline points="464.3,316.4 464.3,314 475.3,314 475.3,316.4" fill="none" stroke="#888" stroke-width="1"/>
<polygon points="455.10,303.60 455.78,304.97 457.29,305.19 456.19,306.26 456.45,307.76 455.10,307.05 453.75,307.76 454.01,306.26 452.91,305.19 454.42,304.97" fill="#000"/>
<polygon points="469.80,303.60 470.48,304.97 471.99,305.19 470.89,306.26 471.15,307.76 469.80,307.05 468.45,307.76 468.71,306.26 467.61,305.19 469.12,304.97" fill="#000"/>
<polyline points="486.4,296.0 486.4,293.6 497.4,293.6 497.4,296.0" fill="none" stroke="#888" stroke-width="1"/>
<polyline points="501.1,296.0 501.1,293.6 512.1,293.6 512.1,296.0" fill="none" stroke="#888" stroke-width="1"/>
<polygon points="491.90,283.50 492.58,284.87 494.09,285.09 492.99,286.16 493.25,287.66 491.90,286.95 490.55,287.66 490.81,286.16 489.71,285.09 491.22,284.87" fill="#000"/>
<polygon points="506.60,283.50 507.28,284.87 508.79,285.09 507.69,286.16 507.95,287.66 506.60,286.95 505.25,287.66 505.51,286.16 504.41,285.09 505.92,284.87" fill="#000"/>
<line x1="253.2" y1="294.40000000000003" x2="253.2" y2="371.2" stroke="#000" stroke-width="1.8"/>
<line x1="250.39999999999998" y1="295.3" x2="253.2" y2="295.3" stroke="#000" stroke-width="1.1"/>
<text x="249.29999999999998" y="297.7" font-size="10" text-anchor="end" fill="#000">4</text>
<line x1="250.39999999999998" y1="332.85" x2="253.2" y2="332.85" stroke="#000" stroke-width="1.1"/>
<text x="249.29999999999998" y="335.25" font-size="10" text-anchor="end" fill="#000">2</text>
<line x1="250.39999999999998" y1="370.4" x2="253.2" y2="370.4" stroke="#000" stroke-width="1.1"/>
<text x="249.29999999999998" y="372.79999999999995" font-size="10" text-anchor="end" fill="#000">0</text>
<line x1="252.5" y1="370.4" x2="518" y2="370.4" stroke="#000" stroke-width="1.7"/>
<text x="202.7" y="383.2" font-size="10" text-anchor="start" fill="#000">CSF-1 (min):</text>
<text x="271.9" y="383.2" font-size="10" text-anchor="middle" fill="#000">0</text>
<text x="310.4" y="383.2" font-size="10" text-anchor="middle" fill="#000">20</text>
<text x="347.3" y="383.2" font-size="10" text-anchor="middle" fill="#000">60</text>
<text x="386.2" y="383.2" font-size="10" text-anchor="middle" fill="#000">180</text>
<text x="424.6" y="383.2" font-size="10" text-anchor="middle" fill="#000">C</text>
<text x="466.2" y="383.2" font-size="10" text-anchor="middle" fill="#000">C+M</text>
<text x="504" y="383.2" font-size="10" text-anchor="middle" fill="#000">C+I</text>
<text x="0.5" y="191.8" font-size="16.5" text-anchor="start" font-weight="bold" fill="#000">C</text>
<g filter="url(#blr)">
<circle cx="97.3" cy="281" r="60" fill="#5a5a5a" fill-opacity="0.07"/>
<circle cx="83.3" cy="209.8" r="14.3" fill="url(#sph)"/>
<circle cx="112" cy="211" r="14.3" fill="url(#sph)"/>
<circle cx="128" cy="220.5" r="14.3" fill="url(#sph)"/>
<circle cx="144" cy="229" r="14.3" fill="url(#sph)"/>
<circle cx="157.5" cy="243" r="14.3" fill="url(#sph)"/>
<circle cx="165" cy="261.7" r="14.3" fill="url(#sph)"/>
<circle cx="165" cy="278.3" r="14.3" fill="url(#sph)"/>
<circle cx="167.5" cy="298.7" r="14.3" fill="url(#sph)"/>
<circle cx="154.2" cy="321" r="14.3" fill="url(#sph)"/>
<circle cx="141" cy="335" r="14.3" fill="url(#sph)"/>
<circle cx="126.3" cy="343.4" r="14.3" fill="url(#sph)"/>
<circle cx="106.5" cy="351.2" r="14.3" fill="url(#sph)"/>
<circle cx="88.7" cy="346.2" r="14.3" fill="url(#sph)"/>
<circle cx="70.9" cy="346.2" r="14.3" fill="url(#sph)"/>
<circle cx="53.4" cy="335.3" r="14.3" fill="url(#sph)"/>
<circle cx="41" cy="319.8" r="14.3" fill="url(#sph)"/>
<circle cx="33.3" cy="305" r="14.3" fill="url(#sph)"/>
<circle cx="31" cy="287.6" r="14.3" fill="url(#sph)"/>
<circle cx="27" cy="269.3" r="14.3" fill="url(#sph)"/>
<circle cx="41" cy="259" r="14.3" fill="url(#sph)"/>
<circle cx="34.8" cy="242.7" r="14.3" fill="url(#sph)"/>
<circle cx="48.8" cy="228.8" r="14.3" fill="url(#sph)"/>
<circle cx="66" cy="219.3" r="14.3" fill="url(#sph)"/>
<circle cx="101" cy="218.7" r="14.3" fill="url(#sph)"/>
<circle cx="86.4" cy="228" r="14.3" fill="url(#sph)"/>
<circle cx="72.4" cy="235" r="14.3" fill="url(#sph)"/>
<circle cx="55.7" cy="243.5" r="14.3" fill="url(#sph)"/>
<circle cx="106.5" cy="235" r="14.3" fill="url(#sph)"/>
<circle cx="122.3" cy="235.7" r="14.3" fill="url(#sph)"/>
<circle cx="137" cy="244.3" r="14.3" fill="url(#sph)"/>
<circle cx="145.6" cy="257.4" r="14.3" fill="url(#sph)"/>
<circle cx="144.8" cy="272.9" r="14.3" fill="url(#sph)"/>
<circle cx="148.7" cy="287.2" r="14.3" fill="url(#sph)"/>
<circle cx="151" cy="305.9" r="14.3" fill="url(#sph)"/>
<circle cx="135.6" cy="318.6" r="14.3" fill="url(#sph)"/>
<circle cx="120" cy="328" r="14.3" fill="url(#sph)"/>
<circle cx="105" cy="332.6" r="14.3" fill="url(#sph)"/>
<circle cx="69.3" cy="329.5" r="14.3" fill="url(#sph)"/>
<circle cx="58.8" cy="316.7" r="14.3" fill="url(#sph)"/>
<circle cx="48" cy="298.5" r="14.3" fill="url(#sph)"/>
<circle cx="41" cy="276.8" r="14.3" fill="url(#sph)"/>
<circle cx="55" cy="262.4" r="14.3" fill="url(#sph)"/>
<circle cx="72.4" cy="251.2" r="14.3" fill="url(#sph)"/>
<circle cx="71.6" cy="270.1" r="14.3" fill="url(#sph)"/>
<circle cx="92.6" cy="244.3" r="14.3" fill="url(#sph)"/>
<circle cx="111" cy="254.3" r="14.3" fill="url(#sph)"/>
<circle cx="124.7" cy="252.8" r="14.3" fill="url(#sph)"/>
<circle cx="123" cy="268" r="14.3" fill="url(#sph)"/>
<circle cx="131.6" cy="283" r="14.3" fill="url(#sph)"/>
<circle cx="133.2" cy="300.8" r="14.3" fill="url(#sph)"/>
<circle cx="117.4" cy="294.3" r="14.3" fill="url(#sph)"/>
<circle cx="119.3" cy="310.9" r="14.3" fill="url(#sph)"/>
<circle cx="102.6" cy="314.7" r="14.3" fill="url(#sph)"/>
<circle cx="89.5" cy="305.4" r="14.3" fill="url(#sph)"/>
<circle cx="77" cy="314" r="14.3" fill="url(#sph)"/>
<circle cx="88.7" cy="327" r="14.3" fill="url(#sph)"/>
<circle cx="66.2" cy="302.3" r="14.3" fill="url(#sph)"/>
<circle cx="75.5" cy="290" r="14.3" fill="url(#sph)"/>
<circle cx="86.4" cy="259" r="14.3" fill="url(#sph)"/>
<circle cx="56.5" cy="283.8" r="14.3" fill="url(#sph)"/>
<circle cx="97.3" cy="281" r="14" fill="#f0f0f0" fill-opacity="0.6"/>
</g>
<line x1="97.3" y1="281" x2="110.80" y2="281.00" stroke="#b8c4c4" stroke-width="0.45"/>
<line x1="97.3" y1="281" x2="110.63" y2="283.11" stroke="#b8c4c4" stroke-width="0.45"/>
<line x1="97.3" y1="281" x2="110.14" y2="285.17" stroke="#b8c4c4" stroke-width="0.45"/>
<line x1="97.3" y1="281" x2="109.33" y2="287.13" stroke="#b8c4c4" stroke-width="0.45"/>
<line x1="97.3" y1="281" x2="108.22" y2="288.94" stroke="#b8c4c4" stroke-width="0.45"/>
<line x1="97.3" y1="281" x2="106.85" y2="290.55" stroke="#b8c4c4" stroke-width="0.45"/>
<line x1="97.3" y1="281" x2="105.24" y2="291.92" stroke="#b8c4c4" stroke-width="0.45"/>
<line x1="97.3" y1="281" x2="103.43" y2="293.03" stroke="#b8c4c4" stroke-width="0.45"/>
<line x1="97.3" y1="281" x2="101.47" y2="293.84" stroke="#b8c4c4" stroke-width="0.45"/>
<line x1="97.3" y1="281" x2="99.41" y2="294.33" stroke="#b8c4c4" stroke-width="0.45"/>
<line x1="97.3" y1="281" x2="97.30" y2="294.50" stroke="#b8c4c4" stroke-width="0.45"/>
<line x1="97.3" y1="281" x2="95.19" y2="294.33" stroke="#b8c4c4" stroke-width="0.45"/>
<line x1="97.3" y1="281" x2="93.13" y2="293.84" stroke="#b8c4c4" stroke-width="0.45"/>
<line x1="97.3" y1="281" x2="91.17" y2="293.03" stroke="#b8c4c4" stroke-width="0.45"/>
<line x1="97.3" y1="281" x2="89.36" y2="291.92" stroke="#b8c4c4" stroke-width="0.45"/>
<line x1="97.3" y1="281" x2="87.75" y2="290.55" stroke="#b8c4c4" stroke-width="0.45"/>
<line x1="97.3" y1="281" x2="86.38" y2="288.94" stroke="#b8c4c4" stroke-width="0.45"/>
<line x1="97.3" y1="281" x2="85.27" y2="287.13" stroke="#b8c4c4" stroke-width="0.45"/>
<line x1="97.3" y1="281" x2="84.46" y2="285.17" stroke="#b8c4c4" stroke-width="0.45"/>
<line x1="97.3" y1="281" x2="83.97" y2="283.11" stroke="#b8c4c4" stroke-width="0.45"/>
<line x1="97.3" y1="281" x2="83.80" y2="281.00" stroke="#b8c4c4" stroke-width="0.45"/>
<line x1="97.3" y1="281" x2="83.97" y2="278.89" stroke="#b8c4c4" stroke-width="0.45"/>
<line x1="97.3" y1="281" x2="84.46" y2="276.83" stroke="#b8c4c4" stroke-width="0.45"/>
<line x1="97.3" y1="281" x2="85.27" y2="274.87" stroke="#b8c4c4" stroke-width="0.45"/>
<line x1="97.3" y1="281" x2="86.38" y2="273.06" stroke="#b8c4c4" stroke-width="0.45"/>
<line x1="97.3" y1="281" x2="87.75" y2="271.45" stroke="#b8c4c4" stroke-width="0.45"/>
<line x1="97.3" y1="281" x2="89.36" y2="270.08" stroke="#b8c4c4" stroke-width="0.45"/>
<line x1="97.3" y1="281" x2="91.17" y2="268.97" stroke="#b8c4c4" stroke-width="0.45"/>
<line x1="97.3" y1="281" x2="93.13" y2="268.16" stroke="#b8c4c4" stroke-width="0.45"/>
<line x1="97.3" y1="281" x2="95.19" y2="267.67" stroke="#b8c4c4" stroke-width="0.45"/>
<line x1="97.3" y1="281" x2="97.30" y2="267.50" stroke="#b8c4c4" stroke-width="0.45"/>
<line x1="97.3" y1="281" x2="99.41" y2="267.67" stroke="#b8c4c4" stroke-width="0.45"/>
<line x1="97.3" y1="281" x2="101.47" y2="268.16" stroke="#b8c4c4" stroke-width="0.45"/>
<line x1="97.3" y1="281" x2="103.43" y2="268.97" stroke="#b8c4c4" stroke-width="0.45"/>
<line x1="97.3" y1="281" x2="105.24" y2="270.08" stroke="#b8c4c4" stroke-width="0.45"/>
<line x1="97.3" y1="281" x2="106.85" y2="271.45" stroke="#b8c4c4" stroke-width="0.45"/>
<line x1="97.3" y1="281" x2="108.22" y2="273.06" stroke="#b8c4c4" stroke-width="0.45"/>
<line x1="97.3" y1="281" x2="109.33" y2="274.87" stroke="#b8c4c4" stroke-width="0.45"/>
<line x1="97.3" y1="281" x2="110.14" y2="276.83" stroke="#b8c4c4" stroke-width="0.45"/>
<line x1="97.3" y1="281" x2="110.63" y2="278.89" stroke="#b8c4c4" stroke-width="0.45"/>
<line x1="97.3" y1="281" x2="83.3" y2="209.8" stroke="#8aa0a0" stroke-opacity="0.18" stroke-width="0.6"/>
<line x1="97.3" y1="281" x2="112" y2="211" stroke="#8aa0a0" stroke-opacity="0.18" stroke-width="0.6"/>
<line x1="97.3" y1="281" x2="128" y2="220.5" stroke="#8aa0a0" stroke-opacity="0.18" stroke-width="0.6"/>
<line x1="97.3" y1="281" x2="144" y2="229" stroke="#8aa0a0" stroke-opacity="0.18" stroke-width="0.6"/>
<line x1="97.3" y1="281" x2="157.5" y2="243" stroke="#8aa0a0" stroke-opacity="0.18" stroke-width="0.6"/>
<line x1="97.3" y1="281" x2="165" y2="261.7" stroke="#8aa0a0" stroke-opacity="0.18" stroke-width="0.6"/>
<line x1="97.3" y1="281" x2="165" y2="278.3" stroke="#8aa0a0" stroke-opacity="0.18" stroke-width="0.6"/>
<line x1="97.3" y1="281" x2="167.5" y2="298.7" stroke="#8aa0a0" stroke-opacity="0.18" stroke-width="0.6"/>
<line x1="97.3" y1="281" x2="154.2" y2="321" stroke="#8aa0a0" stroke-opacity="0.18" stroke-width="0.6"/>
<line x1="97.3" y1="281" x2="141" y2="335" stroke="#8aa0a0" stroke-opacity="0.18" stroke-width="0.6"/>
<line x1="97.3" y1="281" x2="126.3" y2="343.4" stroke="#8aa0a0" stroke-opacity="0.18" stroke-width="0.6"/>
<line x1="97.3" y1="281" x2="106.5" y2="351.2" stroke="#8aa0a0" stroke-opacity="0.18" stroke-width="0.6"/>
<line x1="97.3" y1="281" x2="88.7" y2="346.2" stroke="#8aa0a0" stroke-opacity="0.18" stroke-width="0.6"/>
<line x1="97.3" y1="281" x2="70.9" y2="346.2" stroke="#8aa0a0" stroke-opacity="0.18" stroke-width="0.6"/>
<line x1="97.3" y1="281" x2="53.4" y2="335.3" stroke="#8aa0a0" stroke-opacity="0.18" stroke-width="0.6"/>
<line x1="97.3" y1="281" x2="41" y2="319.8" stroke="#8aa0a0" stroke-opacity="0.18" stroke-width="0.6"/>
<line x1="97.3" y1="281" x2="33.3" y2="305" stroke="#8aa0a0" stroke-opacity="0.18" stroke-width="0.6"/>
<line x1="97.3" y1="281" x2="31" y2="287.6" stroke="#8aa0a0" stroke-opacity="0.18" stroke-width="0.6"/>
<line x1="97.3" y1="281" x2="27" y2="269.3" stroke="#8aa0a0" stroke-opacity="0.18" stroke-width="0.6"/>
<line x1="97.3" y1="281" x2="41" y2="259" stroke="#8aa0a0" stroke-opacity="0.18" stroke-width="0.6"/>
<line x1="97.3" y1="281" x2="34.8" y2="242.7" stroke="#8aa0a0" stroke-opacity="0.18" stroke-width="0.6"/>
<line x1="97.3" y1="281" x2="48.8" y2="228.8" stroke="#8aa0a0" stroke-opacity="0.18" stroke-width="0.6"/>
<line x1="97.3" y1="281" x2="66" y2="219.3" stroke="#8aa0a0" stroke-opacity="0.18" stroke-width="0.6"/>
<line x1="97.3" y1="281" x2="101" y2="218.7" stroke="#8aa0a0" stroke-opacity="0.18" stroke-width="0.6"/>
<line x1="97.3" y1="281" x2="86.4" y2="228" stroke="#8aa0a0" stroke-opacity="0.18" stroke-width="0.6"/>
<line x1="97.3" y1="281" x2="72.4" y2="235" stroke="#8aa0a0" stroke-opacity="0.18" stroke-width="0.6"/>
<line x1="97.3" y1="281" x2="55.7" y2="243.5" stroke="#8aa0a0" stroke-opacity="0.18" stroke-width="0.6"/>
<line x1="97.3" y1="281" x2="106.5" y2="235" stroke="#8aa0a0" stroke-opacity="0.18" stroke-width="0.6"/>
<line x1="97.3" y1="281" x2="122.3" y2="235.7" stroke="#8aa0a0" stroke-opacity="0.18" stroke-width="0.6"/>
<line x1="97.3" y1="281" x2="137" y2="244.3" stroke="#8aa0a0" stroke-opacity="0.18" stroke-width="0.6"/>
<line x1="97.3" y1="281" x2="145.6" y2="257.4" stroke="#8aa0a0" stroke-opacity="0.18" stroke-width="0.6"/>
<line x1="97.3" y1="281" x2="144.8" y2="272.9" stroke="#8aa0a0" stroke-opacity="0.18" stroke-width="0.6"/>
<line x1="97.3" y1="281" x2="148.7" y2="287.2" stroke="#8aa0a0" stroke-opacity="0.18" stroke-width="0.6"/>
<line x1="97.3" y1="281" x2="151" y2="305.9" stroke="#8aa0a0" stroke-opacity="0.18" stroke-width="0.6"/>
<line x1="97.3" y1="281" x2="135.6" y2="318.6" stroke="#8aa0a0" stroke-opacity="0.18" stroke-width="0.6"/>
<line x1="97.3" y1="281" x2="120" y2="328" stroke="#8aa0a0" stroke-opacity="0.18" stroke-width="0.6"/>
<line x1="97.3" y1="281" x2="105" y2="332.6" stroke="#8aa0a0" stroke-opacity="0.18" stroke-width="0.6"/>
<line x1="97.3" y1="281" x2="69.3" y2="329.5" stroke="#8aa0a0" stroke-opacity="0.18" stroke-width="0.6"/>
<line x1="97.3" y1="281" x2="58.8" y2="316.7" stroke="#8aa0a0" stroke-opacity="0.18" stroke-width="0.6"/>
<line x1="97.3" y1="281" x2="48" y2="298.5" stroke="#8aa0a0" stroke-opacity="0.18" stroke-width="0.6"/>
<line x1="97.3" y1="281" x2="41" y2="276.8" stroke="#8aa0a0" stroke-opacity="0.18" stroke-width="0.6"/>
<line x1="97.3" y1="281" x2="55" y2="262.4" stroke="#8aa0a0" stroke-opacity="0.18" stroke-width="0.6"/>
<line x1="97.3" y1="281" x2="72.4" y2="251.2" stroke="#8aa0a0" stroke-opacity="0.18" stroke-width="0.6"/>
<line x1="97.3" y1="281" x2="71.6" y2="270.1" stroke="#8aa0a0" stroke-opacity="0.18" stroke-width="0.6"/>
<line x1="97.3" y1="281" x2="92.6" y2="244.3" stroke="#8aa0a0" stroke-opacity="0.18" stroke-width="0.6"/>
<line x1="97.3" y1="281" x2="111" y2="254.3" stroke="#8aa0a0" stroke-opacity="0.18" stroke-width="0.6"/>
<line x1="97.3" y1="281" x2="124.7" y2="252.8" stroke="#8aa0a0" stroke-opacity="0.18" stroke-width="0.6"/>
<line x1="97.3" y1="281" x2="123" y2="268" stroke="#8aa0a0" stroke-opacity="0.18" stroke-width="0.6"/>
<line x1="97.3" y1="281" x2="131.6" y2="283" stroke="#8aa0a0" stroke-opacity="0.18" stroke-width="0.6"/>
<line x1="97.3" y1="281" x2="133.2" y2="300.8" stroke="#8aa0a0" stroke-opacity="0.18" stroke-width="0.6"/>
<line x1="97.3" y1="281" x2="117.4" y2="294.3" stroke="#8aa0a0" stroke-opacity="0.18" stroke-width="0.6"/>
<line x1="97.3" y1="281" x2="119.3" y2="310.9" stroke="#8aa0a0" stroke-opacity="0.18" stroke-width="0.6"/>
<line x1="97.3" y1="281" x2="102.6" y2="314.7" stroke="#8aa0a0" stroke-opacity="0.18" stroke-width="0.6"/>
<line x1="97.3" y1="281" x2="89.5" y2="305.4" stroke="#8aa0a0" stroke-opacity="0.18" stroke-width="0.6"/>
<line x1="97.3" y1="281" x2="77" y2="314" stroke="#8aa0a0" stroke-opacity="0.18" stroke-width="0.6"/>
<line x1="97.3" y1="281" x2="88.7" y2="327" stroke="#8aa0a0" stroke-opacity="0.18" stroke-width="0.6"/>
<line x1="97.3" y1="281" x2="66.2" y2="302.3" stroke="#8aa0a0" stroke-opacity="0.18" stroke-width="0.6"/>
<line x1="97.3" y1="281" x2="75.5" y2="290" stroke="#8aa0a0" stroke-opacity="0.18" stroke-width="0.6"/>
<line x1="97.3" y1="281" x2="86.4" y2="259" stroke="#8aa0a0" stroke-opacity="0.18" stroke-width="0.6"/>
<line x1="97.3" y1="281" x2="56.5" y2="283.8" stroke="#8aa0a0" stroke-opacity="0.18" stroke-width="0.6"/>
<circle cx="83.3" cy="209.8" r="6.0" fill="url(#rn)" fill-opacity="0.85"/>
<circle cx="112" cy="211" r="5.2" fill="url(#cn)"/>
<circle cx="157.5" cy="243" r="6.0" fill="url(#rn)" fill-opacity="0.85"/>
<circle cx="165" cy="278.3" r="6.0" fill="url(#rn)" fill-opacity="0.85"/>
<circle cx="141" cy="335" r="6.0" fill="url(#rn)" fill-opacity="0.85"/>
<circle cx="106.5" cy="351.2" r="6.0" fill="url(#rn)" fill-opacity="0.85"/>
<circle cx="41" cy="319.8" r="6.0" fill="url(#rn)" fill-opacity="0.85"/>
<circle cx="33.3" cy="305" r="6.0" fill="url(#rn)" fill-opacity="0.85"/>
<circle cx="31" cy="287.6" r="6.0" fill="url(#rn)" fill-opacity="0.85"/>
<circle cx="27" cy="269.3" r="6.0" fill="url(#rn)" fill-opacity="0.85"/>
<circle cx="41" cy="259" r="6.0" fill="url(#rn)" fill-opacity="0.85"/>
<circle cx="34.8" cy="242.7" r="6.0" fill="url(#rn)" fill-opacity="0.85"/>
<circle cx="66" cy="219.3" r="5.2" fill="url(#cn)"/>
<circle cx="55.7" cy="243.5" r="6.0" fill="url(#rn)" fill-opacity="0.85"/>
<circle cx="106.5" cy="235" r="6.0" fill="url(#rn)" fill-opacity="0.85"/>
<circle cx="122.3" cy="235.7" r="6.0" fill="url(#rn)" fill-opacity="0.85"/>
<circle cx="137" cy="244.3" r="6.0" fill="url(#rn)" fill-opacity="0.85"/>
<circle cx="145.6" cy="257.4" r="6.0" fill="url(#rn)" fill-opacity="0.85"/>
<circle cx="144.8" cy="272.9" r="6.0" fill="url(#rn)" fill-opacity="0.85"/>
<circle cx="135.6" cy="318.6" r="6.0" fill="url(#rn)" fill-opacity="0.85"/>
<circle cx="105" cy="332.6" r="6.0" fill="url(#rn)" fill-opacity="0.85"/>
<circle cx="69.3" cy="329.5" r="6.0" fill="url(#rn)" fill-opacity="0.85"/>
<circle cx="58.8" cy="316.7" r="6.0" fill="url(#rn)" fill-opacity="0.85"/>
<circle cx="48" cy="298.5" r="6.0" fill="url(#rn)" fill-opacity="0.85"/>
<circle cx="72.4" cy="251.2" r="5.2" fill="url(#cn)"/>
<circle cx="71.6" cy="270.1" r="6.0" fill="url(#rn)" fill-opacity="0.85"/>
<circle cx="124.7" cy="252.8" r="6.0" fill="url(#rn)" fill-opacity="0.85"/>
<circle cx="123" cy="268" r="6.0" fill="url(#rn)" fill-opacity="0.85"/>
<circle cx="131.6" cy="283" r="6.0" fill="url(#rn)" fill-opacity="0.85"/>
<circle cx="133.2" cy="300.8" r="6.0" fill="url(#rn)" fill-opacity="0.85"/>
<circle cx="117.4" cy="294.3" r="5.2" fill="url(#cn)"/>
<circle cx="119.3" cy="310.9" r="6.0" fill="url(#rn)" fill-opacity="0.85"/>
<circle cx="102.6" cy="314.7" r="6.0" fill="url(#rn)" fill-opacity="0.85"/>
<circle cx="89.5" cy="305.4" r="6.0" fill="url(#rn)" fill-opacity="0.85"/>
<circle cx="77" cy="314" r="6.0" fill="url(#rn)" fill-opacity="0.85"/>
<circle cx="88.7" cy="327" r="6.0" fill="url(#rn)" fill-opacity="0.85"/>
<circle cx="66.2" cy="302.3" r="6.0" fill="url(#rn)" fill-opacity="0.85"/>
<circle cx="86.4" cy="259" r="6.0" fill="url(#rn)" fill-opacity="0.85"/>
<circle cx="56.5" cy="283.8" r="6.0" fill="url(#rn)" fill-opacity="0.85"/>
<circle cx="96.3" cy="281" r="6" fill="url(#yn)"/>
<text x="83.3" y="211.4" font-size="4.5" font-weight="bold" text-anchor="middle" fill="#3a1a1a" letter-spacing="0.75">IL6</text>
<text x="112" y="212.6" font-size="4.5" font-weight="bold" text-anchor="middle" fill="#2a2a2a" letter-spacing="0.75">FCL2</text>
<text x="128" y="222.1" font-size="4.5" font-weight="bold" text-anchor="middle" fill="#2a2a2a" letter-spacing="0.75">TAP1</text>
<text x="144" y="230.6" font-size="4.5" font-weight="bold" text-anchor="middle" fill="#2a2a2a" letter-spacing="0.75">PTEN</text>
<text x="157.5" y="244.6" font-size="4.5" font-weight="bold" text-anchor="middle" fill="#3a1a1a" letter-spacing="0.75">GBP8</text>
<text x="165" y="263.3" font-size="4.5" font-weight="bold" text-anchor="middle" fill="#2a2a2a" letter-spacing="0.75">RHOB</text>
<text x="165" y="279.90000000000003" font-size="4.5" font-weight="bold" text-anchor="middle" fill="#3a1a1a" letter-spacing="0.75">STAT2</text>
<text x="167.5" y="300.3" font-size="4.5" font-weight="bold" text-anchor="middle" fill="#2a2a2a" letter-spacing="0.75">MARCKS</text>
<text x="154.2" y="322.6" font-size="4.5" font-weight="bold" text-anchor="middle" fill="#2a2a2a" letter-spacing="0.75">DBP</text>
<text x="141" y="336.6" font-size="4.5" font-weight="bold" text-anchor="middle" fill="#3a1a1a" letter-spacing="0.75">CCL2</text>
<text x="126.3" y="345.0" font-size="4.5" font-weight="bold" text-anchor="middle" fill="#5a5a5a" letter-spacing="0.75">SMAD7</text>
<text x="106.5" y="352.8" font-size="4.5" font-weight="bold" text-anchor="middle" fill="#3a1a1a" letter-spacing="0.75">CLEC5A</text>
<text x="88.7" y="347.8" font-size="4.5" font-weight="bold" text-anchor="middle" fill="#2a2a2a" letter-spacing="0.75">PRRG4</text>
<text x="70.9" y="347.8" font-size="4.5" font-weight="bold" text-anchor="middle" fill="#2a2a2a" letter-spacing="0.75">IRGM</text>
<text x="53.4" y="336.90000000000003" font-size="4.5" font-weight="bold" text-anchor="middle" fill="#2a2a2a" letter-spacing="0.75">FLT3LG</text>
<text x="41" y="321.40000000000003" font-size="4.5" font-weight="bold" text-anchor="middle" fill="#3a1a1a" letter-spacing="0.75">PDCD4</text>
<text x="33.3" y="306.6" font-size="4.5" font-weight="bold" text-anchor="middle" fill="#3a1a1a" letter-spacing="0.75">TNFRSF9</text>
<text x="31" y="289.20000000000005" font-size="4.5" font-weight="bold" text-anchor="middle" fill="#3a1a1a" letter-spacing="0.75">FCGR1A</text>
<text x="27" y="270.90000000000003" font-size="4.5" font-weight="bold" text-anchor="middle" fill="#3a1a1a" letter-spacing="0.75">IDO1</text>
<text x="41" y="260.6" font-size="4.5" font-weight="bold" text-anchor="middle" fill="#3a1a1a" letter-spacing="0.75">ARNTL</text>
<text x="34.8" y="244.29999999999998" font-size="4.5" font-weight="bold" text-anchor="middle" fill="#3a1a1a" letter-spacing="0.75">GBP5</text>
<text x="48.8" y="230.4" font-size="4.5" font-weight="bold" text-anchor="middle" fill="#2a2a2a" letter-spacing="0.75">SLFN12</text>
<text x="66" y="220.9" font-size="4.5" font-weight="bold" text-anchor="middle" fill="#2a2a2a" letter-spacing="0.75">NLRC5</text>
<text x="101" y="220.29999999999998" font-size="4.5" font-weight="bold" text-anchor="middle" fill="#2a2a2a" letter-spacing="0.75">IRON</text>
<text x="86.4" y="229.6" font-size="4.5" font-weight="bold" text-anchor="middle" fill="#2a2a2a" letter-spacing="0.75">SCK3</text>
<text x="72.4" y="236.6" font-size="4.5" font-weight="bold" text-anchor="middle" fill="#5a5a5a" letter-spacing="0.75">SESN1</text>
<text x="55.7" y="245.1" font-size="4.5" font-weight="bold" text-anchor="middle" fill="#5a5a5a" letter-spacing="0.75">SH2D4</text>
<text x="106.5" y="236.6" font-size="4.5" font-weight="bold" text-anchor="middle" fill="#3a1a1a" letter-spacing="0.75">IRF1</text>
<text x="122.3" y="237.29999999999998" font-size="4.5" font-weight="bold" text-anchor="middle" fill="#3a1a1a" letter-spacing="0.75">IL1B</text>
<text x="137" y="245.9" font-size="4.5" font-weight="bold" text-anchor="middle" fill="#3a1a1a" letter-spacing="0.75">CD80</text>
<text x="145.6" y="259.0" font-size="4.5" font-weight="bold" text-anchor="middle" fill="#3a1a1a" letter-spacing="0.75">TLR2</text>
<text x="144.8" y="274.5" font-size="4.5" font-weight="bold" text-anchor="middle" fill="#3a1a1a" letter-spacing="0.75">CRM1</text>
<text x="148.7" y="288.8" font-size="4.5" font-weight="bold" text-anchor="middle" fill="#5a5a5a" letter-spacing="0.75">EGR2</text>
<text x="151" y="307.5" font-size="4.5" font-weight="bold" text-anchor="middle" fill="#5a5a5a" letter-spacing="0.75">SH100</text>
<text x="135.6" y="320.20000000000005" font-size="4.5" font-weight="bold" text-anchor="middle" fill="#3a1a1a" letter-spacing="0.75">LR1</text>
<text x="120" y="329.6" font-size="4.5" font-weight="bold" text-anchor="middle" fill="#5a5a5a" letter-spacing="0.75">NPAS2</text>
<text x="105" y="334.20000000000005" font-size="4.5" font-weight="bold" text-anchor="middle" fill="#3a1a1a" letter-spacing="0.75">GBP1</text>
<text x="69.3" y="331.1" font-size="4.5" font-weight="bold" text-anchor="middle" fill="#3a1a1a" letter-spacing="0.75">CASP1</text>
<text x="58.8" y="318.3" font-size="4.5" font-weight="bold" text-anchor="middle" fill="#3a1a1a" letter-spacing="0.75">CXCL1</text>
<text x="48" y="300.1" font-size="4.5" font-weight="bold" text-anchor="middle" fill="#3a1a1a" letter-spacing="0.75">IRF1</text>
<text x="41" y="278.40000000000003" font-size="4.5" font-weight="bold" text-anchor="middle" fill="#5a5a5a" letter-spacing="0.75">SIGLEC1</text>
<text x="55" y="264.0" font-size="4.5" font-weight="bold" text-anchor="middle" fill="#5a5a5a" letter-spacing="0.75">GRPN1</text>
<text x="72.4" y="252.79999999999998" font-size="4.5" font-weight="bold" text-anchor="middle" fill="#2a2a2a" letter-spacing="0.75">ALOX15</text>
<text x="71.6" y="271.70000000000005" font-size="4.5" font-weight="bold" text-anchor="middle" fill="#3a1a1a" letter-spacing="0.75">OAS1</text>
<text x="92.6" y="245.9" font-size="4.5" font-weight="bold" text-anchor="middle" fill="#2a2a2a" letter-spacing="0.75">SPRY2</text>
<text x="111" y="255.9" font-size="4.5" font-weight="bold" text-anchor="middle" fill="#5a5a5a" letter-spacing="0.75">SOCS</text>
<text x="124.7" y="254.4" font-size="4.5" font-weight="bold" text-anchor="middle" fill="#3a1a1a" letter-spacing="0.75">CCL3L1</text>
<text x="123" y="269.6" font-size="4.5" font-weight="bold" text-anchor="middle" fill="#3a1a1a" letter-spacing="0.75">CCL10</text>
<text x="131.6" y="284.6" font-size="4.5" font-weight="bold" text-anchor="middle" fill="#3a1a1a" letter-spacing="0.75">CASS</text>
<text x="133.2" y="302.40000000000003" font-size="4.5" font-weight="bold" text-anchor="middle" fill="#3a1a1a" letter-spacing="0.75">ADAH</text>
<text x="117.4" y="295.90000000000003" font-size="4.5" font-weight="bold" text-anchor="middle" fill="#2a2a2a" letter-spacing="0.75">JAG1</text>
<text x="119.3" y="312.5" font-size="4.5" font-weight="bold" text-anchor="middle" fill="#5a5a5a" letter-spacing="0.75">CDKN1A</text>
<text x="102.6" y="316.3" font-size="4.5" font-weight="bold" text-anchor="middle" fill="#3a1a1a" letter-spacing="0.75">SP1</text>
<text x="89.5" y="307.0" font-size="4.5" font-weight="bold" text-anchor="middle" fill="#3a1a1a" letter-spacing="0.75">GBP4</text>
<text x="77" y="315.6" font-size="4.5" font-weight="bold" text-anchor="middle" fill="#3a1a1a" letter-spacing="0.75">CD274</text>
<text x="88.7" y="328.6" font-size="4.5" font-weight="bold" text-anchor="middle" fill="#3a1a1a" letter-spacing="0.75">GBP2</text>
<text x="66.2" y="303.90000000000003" font-size="4.5" font-weight="bold" text-anchor="middle" fill="#3a1a1a" letter-spacing="0.75">NLRP3</text>
<text x="75.5" y="291.6" font-size="4.5" font-weight="bold" text-anchor="middle" fill="#5a5a5a" letter-spacing="0.75">C16A10</text>
<text x="86.4" y="260.6" font-size="4.5" font-weight="bold" text-anchor="middle" fill="#3a1a1a" letter-spacing="0.75">GBP5</text>
<text x="56.5" y="285.40000000000003" font-size="4.5" font-weight="bold" text-anchor="middle" fill="#3a1a1a" letter-spacing="0.75">CXCL1</text>
<text x="97.3" y="282.6" font-size="4.5" font-weight="bold" text-anchor="middle" fill="#222" letter-spacing="0.75">miR-21</text>
</svg></body></html>
